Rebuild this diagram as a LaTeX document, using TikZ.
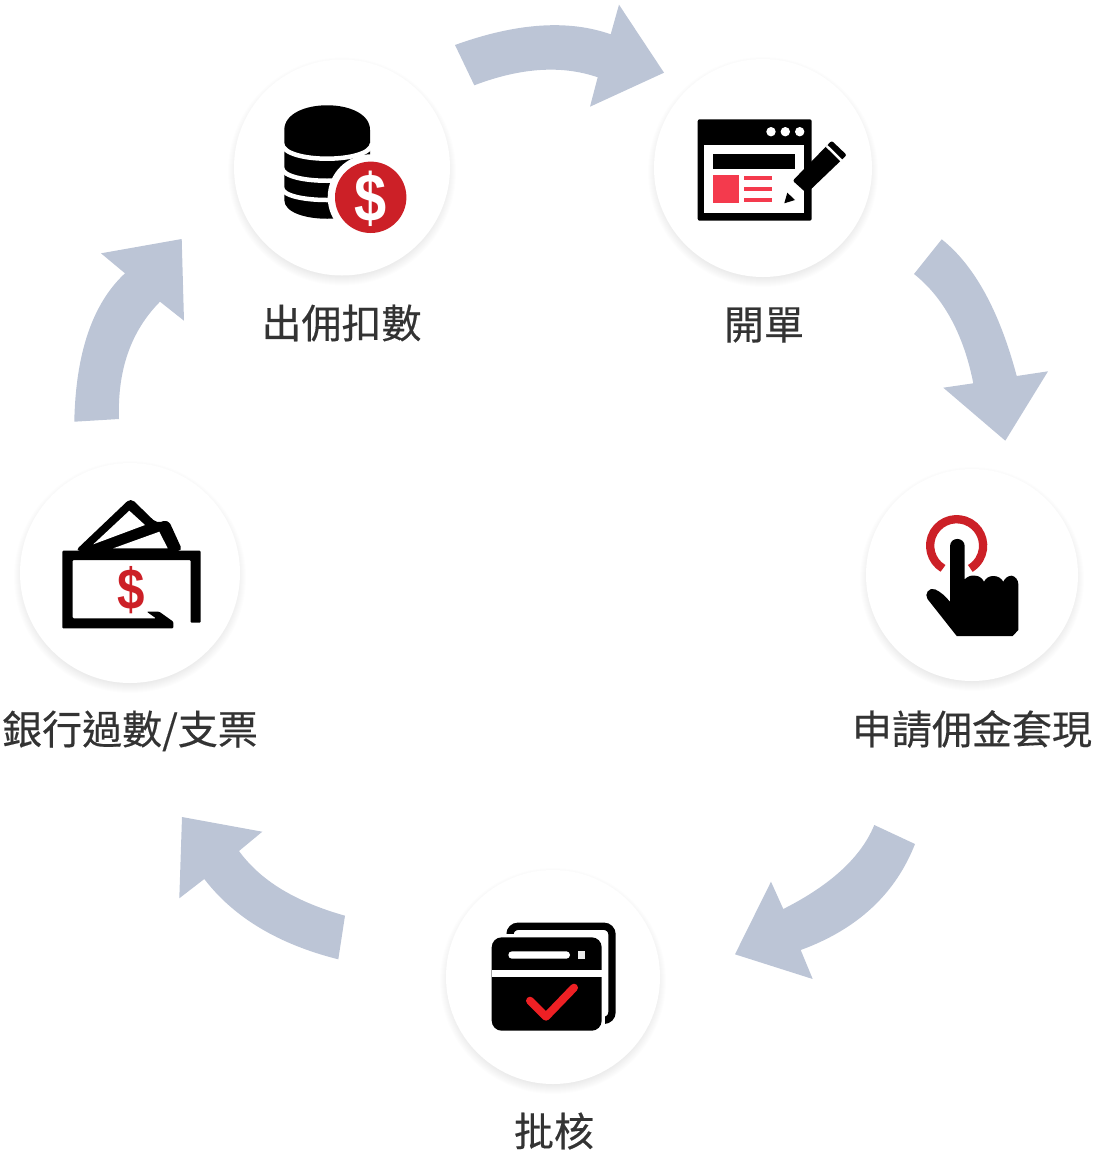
\documentclass[tikz,border=0pt]{standalone}
\usepackage{fontspec}
\usepackage{xcolor}
\newfontfamily\cjkfont[FakeBold=0.35]{Noto Sans CJK TC}
\newfontfamily\moneyfont[FakeStretch=0.85]{Liberation Sans Bold}
\definecolor{flowblue}{HTML}{BCC5D6}
\definecolor{moneyred}{HTML}{CC2027}
\definecolor{pagered}{HTML}{F43A4D}
\definecolor{tickred}{HTML}{EE2024}
\definecolor{labelgray}{HTML}{333333}
\tikzset{
	flowarrow/.style={fill=flowblue},
	iconcircle/.style={circle, fill=white, inner sep=0pt},
	steplabel/.style={inner sep=0pt, text=labelgray, font=\cjkfont\fontsize{40}{40}\selectfont},
	dollar/.style={inner sep=0pt, font=\moneyfont\fontsize{#1}{#1}\selectfont},
}

\begin{document}
\begin{tikzpicture}[x=1pt, y=-1pt]
		\useasboundingbox (0,0) rectangle (1096,1160);
		\fill[flowarrow] (455,45) .. controls (516.4,22.8) and (568.3,19.3) .. (610.7,34.3) -- (619,4.7) -- (664,72.7) -- (590,106.7) -- (597.7,77.3) .. controls (561.9,64.9) and (520.8,67.6) .. (474.3,85.3) -- cycle;
		\fill[flowarrow] (941.7,239.3) .. controls (974.4,265.3) and (999.4,310.9) .. (1016.7,376) -- (1048,371.3) -- (1005.3,440.7) -- (943.3,387.7) -- (973.3,383.3) .. controls (962,326) and (938,293) .. (914,274) -- cycle;
		\fill[flowarrow] (915,844) .. controls (895.4,894) and (857.3,929.3) .. (800.7,950) -- (812.7,979) -- (735,954.3) -- (771,881.7) -- (783.3,909) .. controls (830.8,885) and (861.2,857) .. (874.3,825) -- cycle;
		\fill[flowarrow] (338.3,959.3) .. controls (278.6,944.3) and (233.9,917.6) .. (204.3,879) -- (179.3,898.3) -- (182,817) -- (262.3,831.7) -- (239,851) .. controls (258,877) and (289.3,900) .. (345,915.7) -- cycle;
		\fill[flowarrow] (74.3,421.7) .. controls (75.7,352.9) and (92.6,303.4) .. (125,273.3) -- (101,253.3) -- (181.7,239) -- (184,320.7) -- (160,301.7) .. controls (131,331) and (117.3,370) .. (119,419) -- cycle;
		\foreach \name/\cx/\cy/\r in {coins/342/167.5/108, form/763/168/109, touch/972/575/106, approve/553/977/107, bank/130/573/110}{
			\foreach \s in {1,...,14}{
				\fill[black, opacity=0.009] (\cx,\cy+4) circle[radius={(\r+\s-8)*1pt}];
			}
			\node[iconcircle, minimum size=2*\r pt] (\name) at (\cx,\cy) {};
		}
		% coins
		\fill[black] (284.3,130) .. controls (284.3,97) and (370,97) .. (370,130) -- (370,200) .. controls (370,225) and (284.3,225) .. (284.3,200) -- cycle;
		\foreach \y/\d in {143.7/20, 168/17, 188/16}{
			\draw[white, line width=4.5pt] (282,\y) .. controls (284,\y+\d) and (370,\y+\d) .. (372,\y);
		}
		\fill[white] (370.7,197.3) circle[radius=43pt];
		\fill[moneyred] (370.7,197.3) circle[radius=35.7pt];
		\node[dollar=68, text=white] (coinsign) at (370.7,199) {\$};
		% form
		\fill[black, rounded corners=2pt] (697.7,119.3) rectangle (811.7,220.7);
		\fill[white] (704.3,144.7) rectangle (804.3,213.3);
		\foreach \x in {771,785.3,799.7}{
			\fill[white] (\x,131.7) circle[radius=4.7pt];
		}
		\fill[black] (713,153.7) rectangle (795.3,169);
		\fill[pagered] (713,175.3) rectangle (739,203.3);
		\foreach \y in {176,187,198}{
			\fill[pagered] (743.7,\y) rectangle (771.7,\y+3.8);
		}
		\fill[black] (784.3,203.3) -- (787.3,192.7) -- (795,200) -- cycle;
		\fill[black, rounded corners=2pt] (792.7,180.7) -- (831.7,140.7) -- (846.7,155) -- (806.7,193.3) -- cycle;
		\draw[white, line width=2.5pt] (826.7,146) -- (841.7,160.7);
		% touch
		\draw[moneyred, line width=8.3pt] (943,568.4) arc[start angle=239, end angle=-59, radius=26.5pt];
		\fill[black] (950,601.7) -- (950,546.3) .. controls (950,536.5) and (964.7,536.5) .. (964.7,546.3) -- (964.7,579.3)
			.. controls (968,576) and (972,575) .. (975,575.7) .. controls (979,575.7) and (982,578) .. (984,581.7)
			.. controls (986,578) and (989,576) .. (993.3,576) .. controls (998,576) and (1001,578) .. (1003.3,581.7)
			.. controls (1005,578) and (1008,575.7) .. (1011.7,575.7) .. controls (1015,576) and (1018.3,580) .. (1018.3,584)
			-- (1018.3,630) -- (1012.7,636) -- (956.7,636) -- (927.5,599) .. controls (924,594) and (929,587) .. (935,589.3)
			.. controls (941,592) and (945,596) .. cycle;
		% approve
		\draw[black, line width=7.3pt, rounded corners=8pt] (510,934) -- (510,926.3) -- (612,926.3) -- (612,1020.3) -- (605.7,1020.3);
		\fill[white] (488,933.7) rectangle (605.2,1034);
		\fill[black, rounded corners=10pt] (491.7,937.3) rectangle (601.7,1030.7);
		\fill[white] (491.7,970) rectangle (601.7,976.7);
		\fill[white, rounded corners=3.7pt] (508.3,951.3) rectangle (570,958.7);
		\fill[black!8] (577.7,951.3) rectangle (585,958.7);
		\draw[tickred, line width=8pt, line cap=round, line join=round] (530,1000.7) -- (546,1016.7) -- (574,987.7);
		% bank
		\fill[black, rounded corners=5pt] (75,551) -- (130.7,498) -- (156.7,523.3) -- (168.3,519.5) -- (182.7,551) -- cycle;
		\fill[white] (93.3,544.3) -- (129.3,510.7) -- (145,525) -- cycle;
		\fill[white] (113.3,548.3) -- (159.3,531.7) -- (167.7,548.3) -- cycle;
		\fill[black, rounded corners=1pt] (62.3,550.7) -- (200.7,550.7) -- (200.7,622.7) -- (190.7,622.7) -- (190.7,560) -- (72.7,560) -- (72.7,618.3) -- (156,618.3) -- (146.7,611.7) -- (159.3,611.7) -- (173.3,621.7) -- (173.3,628.3) -- (62.3,628.3) -- cycle;
		\node[dollar=58, text=moneyred] (banksign) at (131,590) {\$};
		% labels
		\node[steplabel] (coinslabel) at (341.5,323) {出佣扣數};
		\node[steplabel] (formlabel) at (764,325) {開單};
		\node[steplabel] (touchlabel) at (972,729) {申請佣金套現};
		\node[steplabel] (approvelabel) at (554,1131) {批核};
		\node[steplabel] (banklabel) at (130,731) {銀行過數/支票};
	\end{tikzpicture}
\end{document}
